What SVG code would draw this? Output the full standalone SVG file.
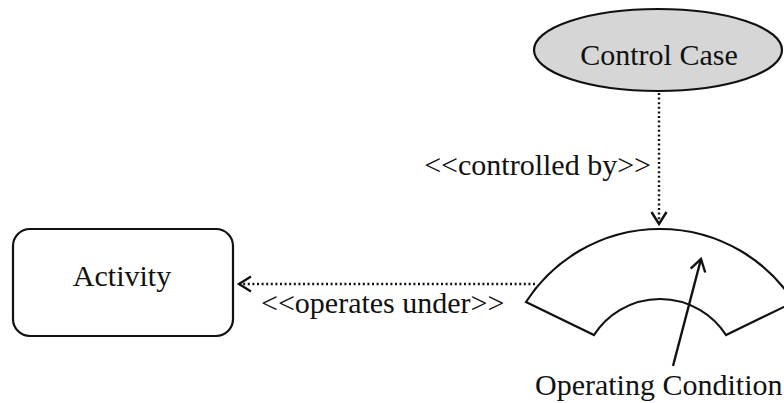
<svg xmlns="http://www.w3.org/2000/svg" width="784" height="403" viewBox="0 0 784 403">
<style>
.lbl{font-family:"Liberation Serif","Times New Roman",serif;font-size:30px;fill:#111}
.shape{fill:none;stroke:#111;stroke-width:2.2}
.dot{fill:none;stroke:#111;stroke-width:2.4;stroke-dasharray:2 2.6}
.solid{fill:none;stroke:#111;stroke-width:2.4}
</style>
<defs>
<marker id="open" markerUnits="userSpaceOnUse" markerWidth="20" markerHeight="20" viewBox="-14 -10 16 20" refX="0" refY="0" orient="auto">
<path d="M-12,-7.5 L0,0 L-12,7.5" fill="none" stroke="#111" stroke-width="2.4"/>
</marker>
</defs>
<rect width="784" height="403" fill="#fff"/>
<g id="control-case">
<ellipse cx="658" cy="50" rx="124" ry="41" fill="#d6d6d6" stroke="#111" stroke-width="2.2"/>
<text class="lbl" x="659" y="65" text-anchor="middle">Control Case</text>
</g>
<g id="activity">
<rect class="shape" x="13" y="229" width="220" height="107" rx="17" ry="17"/>
<text class="lbl" x="122" y="286" text-anchor="middle">Activity</text>
</g>
<g id="operating-condition">
<path class="shape" d="M526,302 A159.5,159.5 0 0 1 794,302 L726,335 A78.5,78.5 0 0 0 594,335 Z"/>
<text class="lbl" x="535" y="395">Operating Condition</text>
</g>
<g id="connectors">
<line class="dot" x1="659" y1="93" x2="659" y2="224" marker-end="url(#open)"/>
<text class="lbl" x="651" y="175" text-anchor="end">&lt;&lt;controlled by&gt;&gt;</text>
<line class="dot" x1="535" y1="284" x2="239" y2="284" marker-end="url(#open)"/>
<text class="lbl" x="261" y="313">&lt;&lt;operates under&gt;&gt;</text>
<line class="solid" x1="673" y1="366" x2="701" y2="259" marker-end="url(#open)"/>
</g>
</svg>
